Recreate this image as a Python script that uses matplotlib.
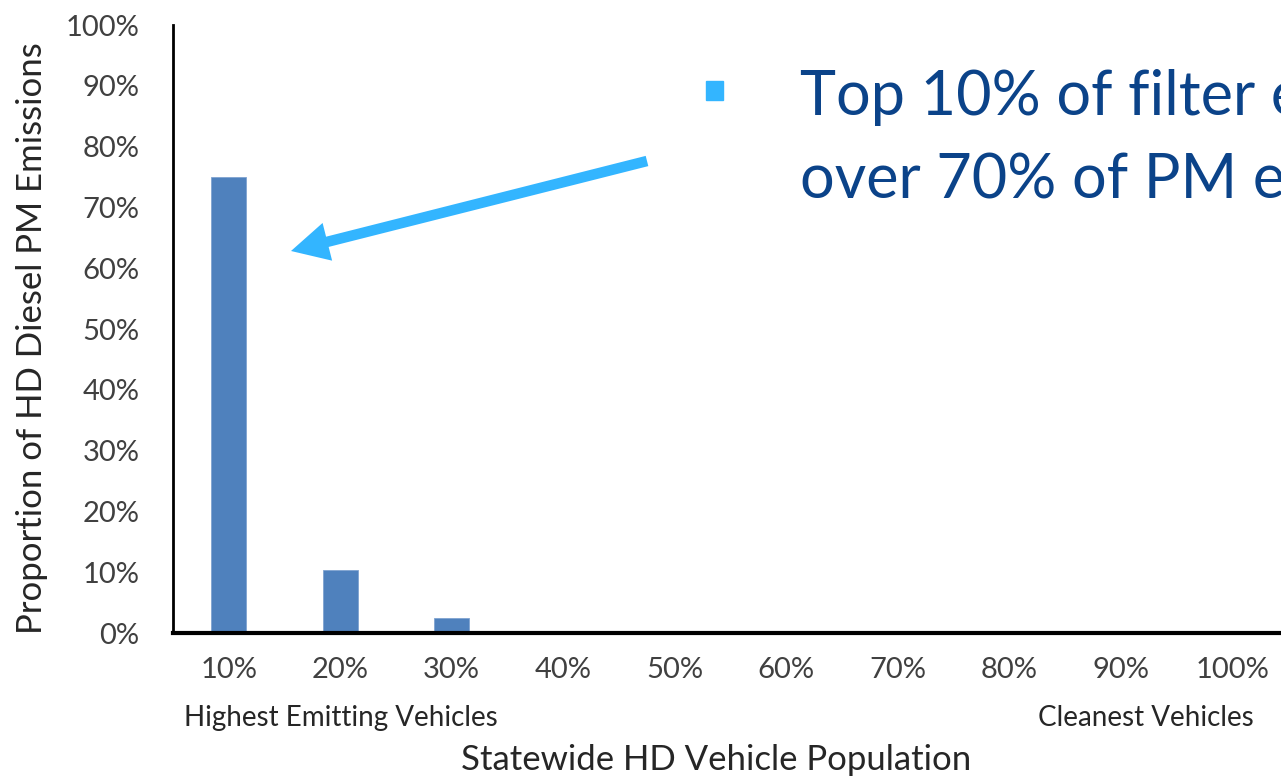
import matplotlib.pyplot as plt
import matplotlib.patches as mpatches
import numpy as np

categories = ["10%", "20%", "30%", "40%", "50%", "60%", "70%", "80%", "90%", "100%"]
pm_share = [75.0, 10.4, 2.4, 0.0, 0.0, 0.0, 0.0, 0.0, 0.0, 0.0]
yticks = [0, 10, 20, 30, 40, 50, 60, 70, 80, 90, 100]

W, H = 1281, 777
FONT = ["Lato", "DejaVu Sans"]
TICK_COLOR = "#404040"
BAR_COLOR = "#4F81BD"

fig = plt.figure(figsize=(W / 100, H / 100), dpi=100)
# axes runs past the right edge of the figure, as in the slide
ax = fig.add_axes([173 / W, 1 - 633 / H, (1288 - 173) / W, (633 - 25) / H])

x = np.arange(len(categories))
ax.bar(x, pm_share, width=0.31, color=BAR_COLOR, edgecolor="#7FA3D1", linewidth=0.6)

ax.set_xlim(-0.5, len(categories) - 0.5)
ax.set_ylim(0, 100)
ax.set_yticks(yticks)
ax.set_yticklabels([f"{v}%" for v in yticks], family=FONT, fontsize=21, color=TICK_COLOR)
ax.set_xticks(x)
ax.set_xticklabels(categories, family=FONT, fontsize=21, color=TICK_COLOR)
ax.tick_params(axis="y", length=0, pad=24)
ax.tick_params(axis="x", length=0, pad=17)

for s in ["top", "right"]:
    ax.spines[s].set_visible(False)
ax.spines["left"].set_linewidth(2)
ax.spines["bottom"].set_linewidth(3)

fig.text(32 / W, 1 - 338 / H, "Proportion of HD Diesel PM Emissions", rotation=90,
         ha="center", va="center", family=FONT, fontsize=25, color="#262626")
fig.text(716 / W, 1 - 760 / H, "Statewide HD Vehicle Population", ha="center", va="center",
         family=FONT, fontsize=25, color="#262626")
fig.text(341 / W, 1 - 718 / H, "Highest Emitting Vehicles", ha="center", va="center",
         family=FONT, fontsize=20, color="#262626")
fig.text(1146 / W, 1 - 718 / H, "Cleanest Vehicles", ha="center", va="center",
         family=FONT, fontsize=20, color="#262626")

# callout (runs off the right edge, as on the slide)
fig.patches.append(plt.Rectangle((706 / W, 1 - 100 / H), 17 / W, 19 / H,
                                 transform=fig.transFigure, color="#33B5FF"))
fig.text(800 / W, 1 - 115 / H, "Top 10% of filter emitters", ha="left", va="baseline",
         family=FONT, fontsize=44, color="#0B4389")
fig.text(800 / W, 1 - 198 / H, "over 70% of PM emissions", ha="left", va="baseline",
         family=FONT, fontsize=44, color="#0B4389")
fig.add_artist(mpatches.FancyArrowPatch(
    (647 / W, 1 - 161 / H), (291 / W, 1 - 251 / H), transform=fig.transFigure,
    arrowstyle="simple,head_length=1.35,head_width=1.4,tail_width=0.38",
    mutation_scale=20, color="#33B5FF", linewidth=0, shrinkA=0, shrinkB=0))

fig.savefig("out.png", dpi=100)
